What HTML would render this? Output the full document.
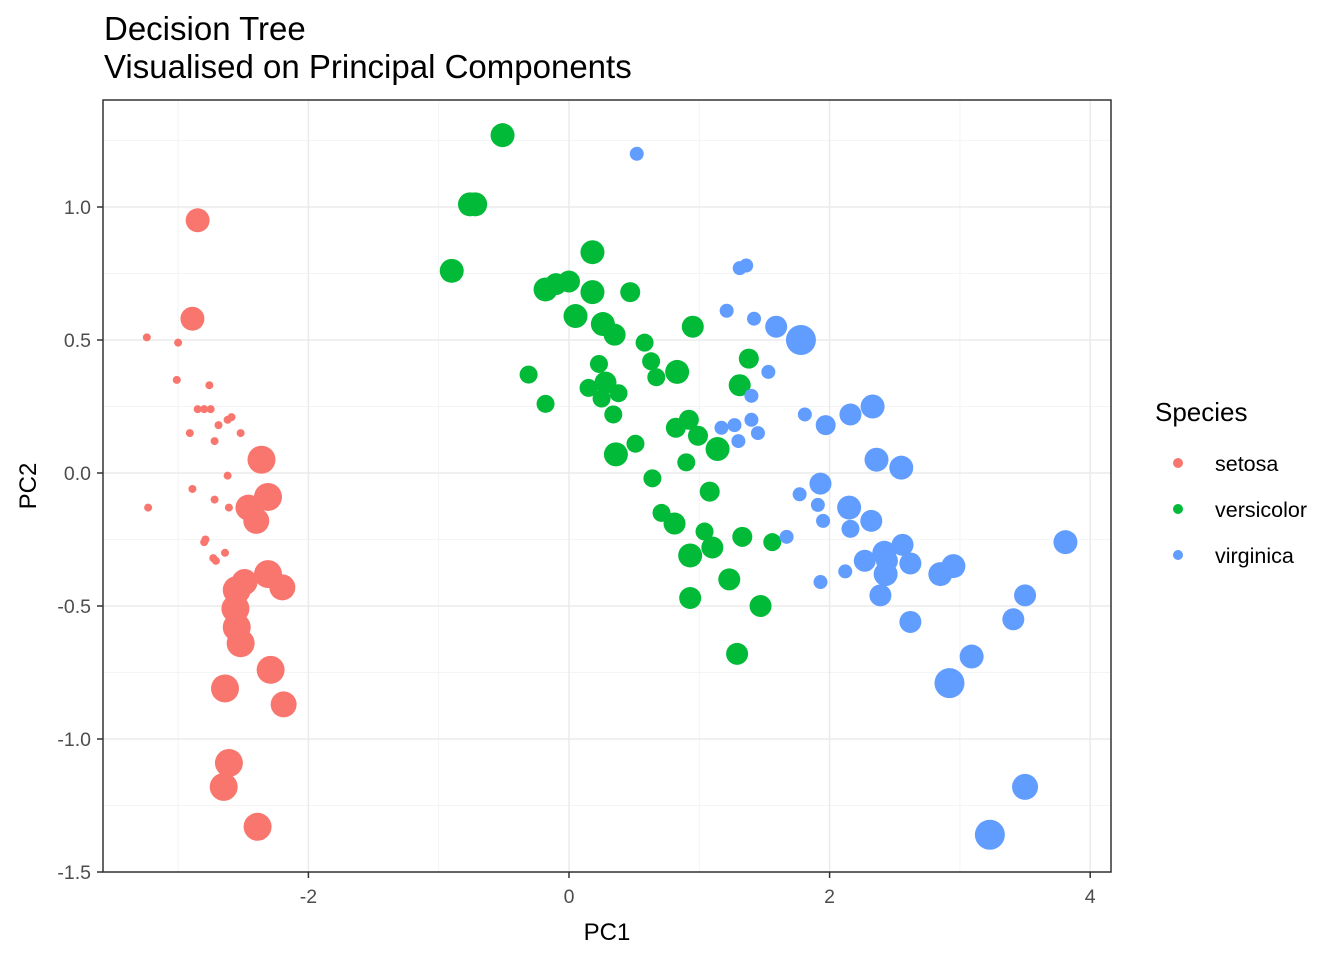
<!DOCTYPE html>
<html><head><meta charset="utf-8"><style>
body{margin:0;background:#fff;}
svg text{font-family:"Liberation Sans",Arial,sans-serif;}
</style></head><body>
<svg id="chart" width="1344" height="960" xmlns="http://www.w3.org/2000/svg">
<text x="104" y="40" font-size="33" fill="#000">Decision Tree</text>
<text x="104" y="78" font-size="33" fill="#000">Visualised on Principal Components</text>
<g id="grid"></g>
<g id="points"></g>
<rect x="103" y="100" width="1008" height="772" fill="none" stroke="#333" stroke-width="1.5"/>
<g id="axes"></g>
<text x="607" y="940" font-size="24" text-anchor="middle">PC1</text>
<text transform="translate(36,486) rotate(-90)" font-size="24" text-anchor="middle">PC2</text>
<g>
<text x="1155" y="421" font-size="26">Species</text>
<circle cx="1178" cy="463" r="5" fill="#F8766D"/>
<text x="1215" y="471" font-size="21.5">setosa</text>
<circle cx="1178" cy="509" r="5" fill="#00BA38"/>
<text x="1215" y="517" font-size="21.5">versicolor</text>
<circle cx="1178" cy="555" r="5" fill="#619CFF"/>
<text x="1215" y="563" font-size="21.5">virginica</text>
</g>
</svg>
<script>
const xTicks=[-2,0,2,4];
const yTicks=[-1.5,-1.0,-0.5,0.0,0.5,1.0];
const yTickLabels=["-1.5","-1.0","-0.5","0.0","0.5","1.0"];
const setosaX=[-2.85,-2.89,-3.24,-3.00,-3.01,-2.76,-2.85,-2.80,-2.75,-2.62,-2.59,-2.69,-2.91,-2.72,-2.52,-2.62,-2.89,-2.72,-2.61,-3.23,-2.36,-2.31,-2.46,-2.40,-2.80,-2.79,-2.64,-2.73,-2.71,-2.31,-2.49,-2.20,-2.55,-2.56,-2.55,-2.52,-2.29,-2.64,-2.19,-2.61,-2.65,-2.39];
const setosaY=[0.95,0.58,0.51,0.49,0.35,0.33,0.24,0.24,0.24,0.20,0.21,0.18,0.15,0.12,0.15,-0.01,-0.06,-0.10,-0.13,-0.13,0.05,-0.09,-0.13,-0.18,-0.26,-0.25,-0.30,-0.32,-0.33,-0.38,-0.41,-0.43,-0.44,-0.51,-0.58,-0.64,-0.74,-0.81,-0.87,-1.09,-1.18,-1.33];
const setosaSize=[12,12,4,4,4,4,4,4,4,4,4,4,4,4,4,4,4,4,4,4,14,14,13,13,4,4,4,4,4,14,13,13,14,14,14,14,14,14,13,14,14,14];
const versicolorX=[-0.51,-0.72,-0.76,-0.90,0.18,0.00,-0.10,-0.18,0.18,0.47,0.05,0.26,0.35,0.95,0.58,0.63,-0.31,0.23,0.67,0.83,1.38,0.15,0.28,0.38,0.25,1.31,-0.18,0.34,0.92,0.82,0.99,0.51,1.14,0.36,0.90,0.64,1.08,0.71,0.81,1.04,1.33,1.10,1.56,0.93,1.23,0.93,1.47,1.29];
const versicolorY=[1.27,1.01,1.01,0.76,0.83,0.72,0.71,0.69,0.68,0.68,0.59,0.56,0.52,0.55,0.49,0.42,0.37,0.41,0.36,0.38,0.43,0.32,0.34,0.30,0.28,0.33,0.26,0.22,0.20,0.17,0.14,0.11,0.09,0.07,0.04,-0.02,-0.07,-0.15,-0.19,-0.22,-0.24,-0.28,-0.26,-0.31,-0.40,-0.47,-0.50,-0.68];
const versicolorSize=[12,12,12,12,12,11,11,12,12,10,12,12,11,11,9,9,9,9,9,12,10,9,11,9,9,11,9,9,10,10,10,9,12,12,9,9,10,9,11,9,10,11,9,12,11,11,11,11];
const virginicaX=[0.52,1.31,1.36,1.21,1.42,1.59,1.78,1.53,1.40,1.81,1.40,1.27,1.17,1.45,1.30,1.97,2.16,2.33,2.36,2.55,1.93,1.77,1.91,2.15,2.32,2.16,1.95,1.67,2.42,2.56,2.27,2.44,2.43,2.62,2.12,1.93,2.39,2.95,2.85,3.50,3.81,2.62,3.41,3.09,2.92,3.50,3.23];
const virginicaY=[1.20,0.77,0.78,0.61,0.58,0.55,0.50,0.38,0.29,0.22,0.20,0.18,0.17,0.15,0.12,0.18,0.22,0.25,0.05,0.02,-0.04,-0.08,-0.12,-0.13,-0.18,-0.21,-0.18,-0.24,-0.30,-0.27,-0.33,-0.33,-0.38,-0.34,-0.37,-0.41,-0.46,-0.35,-0.38,-0.46,-0.26,-0.56,-0.55,-0.69,-0.79,-1.18,-1.36];
const virginicaSize=[7,7,7,7,7,11,15,7,7,7,7,7,7,7,7,10,11,12,12,12,11,7,7,12,11,9,7,7,12,11,11,11,12,11,7,7,11,12,12,11,12,11,11,12,15,13,15];

const NS="http://www.w3.org/2000/svg";
const L=103,R=1111,T=100,B=872;
function sx(v){return 569+v*130.3;}
function sy(v){return 473-v*266;}
const grid=document.getElementById('grid'),axes=document.getElementById('axes'),pts=document.getElementById('points');
function mk(tag,attrs,parent){const e=document.createElementNS(NS,tag);for(const k in attrs)e.setAttribute(k,attrs[k]);parent.appendChild(e);return e;}
for(let i=0;i<xTicks.length;i++){
  const m=mk('line',{x1:sx(xTicks[i]-1),x2:sx(xTicks[i]-1),y1:T,y2:B,stroke:'#F4F4F4','stroke-width':1},grid);
  
  
}
for(let i=0;i<yTicks.length;i++){
  const m=mk('line',{x1:L,x2:R,y1:sy(yTicks[i]+0.25),y2:sy(yTicks[i]+0.25),stroke:'#F4F4F4','stroke-width':1},grid);
  
  
}
xTicks.forEach(v=>{
  const g=mk('line',{x1:sx(v),x2:sx(v),y1:T,y2:B,stroke:'#EBEBEB','stroke-width':1.5},grid);
  
  
  const t=mk('line',{x1:sx(v),x2:sx(v),y1:B,y2:B+6,stroke:'#333','stroke-width':1.5},axes);
  
  
  const l=mk('text',{x:sx(v),y:B+31,'font-size':19.5,fill:'#4D4D4D','text-anchor':'middle'},axes);
  
  
  l.textContent=String(v);
});
yTicks.forEach((v,i)=>{
  const g=mk('line',{x1:L,x2:R,y1:sy(v),y2:sy(v),stroke:'#EBEBEB','stroke-width':1.5},grid);
  
  
  const t=mk('line',{x1:L-6,x2:L,y1:sy(v),y2:sy(v),stroke:'#333','stroke-width':1.5},axes);
  
  
  const l=mk('text',{x:L-12,y:sy(v)+7,'font-size':19.5,fill:'#4D4D4D','text-anchor':'end'},axes);
  
  
  l.textContent=yTickLabels[i];
});
function draw(xs,ys,ss,col,name){
  for(let i=0;i<xs.length;i++){
    const c=mk('circle',{cx:sx(xs[i]),cy:sy(ys[i]),r:ss[i],fill:col},pts);
    
    
  }
}
draw(setosaX,setosaY,setosaSize,'#F8766D','setosa');
draw(versicolorX,versicolorY,versicolorSize,'#00BA38','versicolor');
draw(virginicaX,virginicaY,virginicaSize,'#619CFF','virginica');
</script>
</body></html>
